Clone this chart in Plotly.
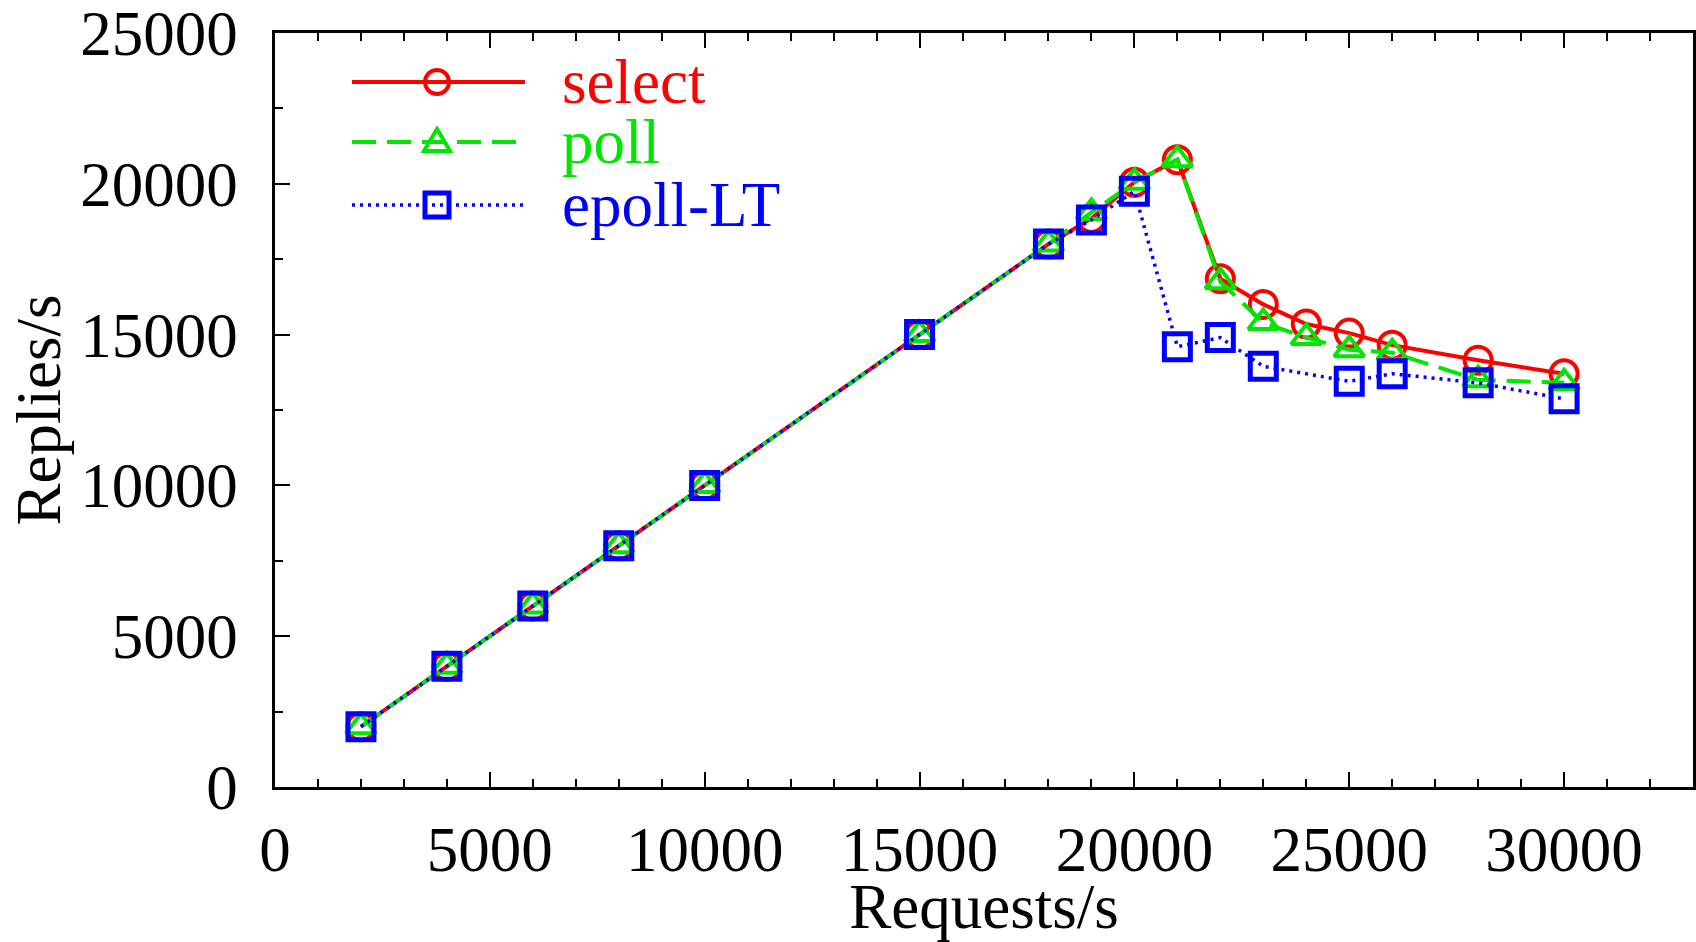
import plotly.graph_objects as go

# ---- data ----
requests = [2000, 4000, 6000, 8000, 10000, 15000, 18000, 19000, 20000, 21000,
            22000, 23000, 24000, 25000, 26000, 28000, 30000]
select_replies = [2000, 4000, 6000, 8000, 10000, 15000, 18000, 18850, 20050, 20800,
                  16850, 16000, 15350, 15050, 14650, 14150, 13700]
poll_replies = [2000, 4000, 6000, 8000, 10000, 15000, 18000, 19050, 20050, 20800,
                16750, 15400, 14900, 14500, 14400, 13500, 13400]
epoll_requests = [2000, 4000, 6000, 8000, 10000, 15000, 18000, 19000, 20000, 21000,
                  22000, 23000, 25000, 26000, 28000, 30000]
epoll_replies = [2000, 4000, 6000, 8000, 10000, 15000, 18000, 18800, 19750, 14600,
                 14900, 13950, 13450, 13700, 13400, 12870]

series_names = ["select", "poll", "epoll-LT"]
x_ticks = [0, 5000, 10000, 15000, 20000, 25000, 30000]
y_ticks = [0, 5000, 10000, 15000, 20000, 25000]

RED = "#ff0000"
GREEN = "#00e600"
BLUE = "#0000ff"
FONT = "Liberation Serif"
FS = 63

fig = go.Figure()
fig.add_trace(go.Scatter(
    x=requests, y=select_replies, name=series_names[0], mode="lines+markers",
    line=dict(color=RED, width=4),
    marker=dict(symbol="circle-open", size=27, color=RED, line=dict(width=4, color=RED)),
))
fig.add_trace(go.Scatter(
    x=requests, y=poll_replies, name=series_names[1], mode="lines+markers",
    line=dict(color=GREEN, width=4, dash="24px,11px"),
    marker=dict(symbol="triangle-up-open", size=26, color=GREEN, line=dict(width=4, color=GREEN)),
))
fig.add_trace(go.Scatter(
    x=epoll_requests, y=epoll_replies, name=series_names[2], mode="lines+markers",
    line=dict(color=BLUE, width=3.5, dash="3px,5px"),
    marker=dict(symbol="square-open", size=26, color=BLUE, line=dict(width=5, color=BLUE)),
))

# ---- custom legend (long sample lines, coloured labels) ----
L, R, T, B = 275, 1693, 33, 787
def px(xp): return (xp - L) / (R - L)
def py(yp): return (B - yp) / (B - T)

leg_rows = [82, 142, 205]
leg_colors = [RED, GREEN, BLUE]
leg_dash = ["solid", "24px,11px", "3px,5px"]
leg_width = [4, 4, 3.5]
shapes = []
annotations = []
for i, (yy, col) in enumerate(zip(leg_rows, leg_colors)):
    shapes.append(dict(type="line", xref="paper", yref="paper",
                       x0=px(352), x1=px(525), y0=py(yy), y1=py(yy),
                       line=dict(color=col, width=leg_width[i], dash=leg_dash[i])))
    if i == 0:
        shapes.append(dict(type="circle", xref="paper", yref="paper",
                           xsizemode="pixel", ysizemode="pixel",
                           xanchor=px(437), yanchor=py(yy),
                           x0=-12, x1=12, y0=-12, y1=12,
                           line=dict(color=col, width=4), fillcolor="rgba(0,0,0,0)"))
    elif i == 1:
        shapes.append(dict(type="path", xref="paper", yref="paper",
                           xsizemode="pixel", ysizemode="pixel",
                           xanchor=px(437), yanchor=py(yy),
                           path="M-13,-9 L13,-9 L0,13 Z",
                           line=dict(color=col, width=4), fillcolor="rgba(0,0,0,0)"))
    else:
        shapes.append(dict(type="rect", xref="paper", yref="paper",
                           xsizemode="pixel", ysizemode="pixel",
                           xanchor=px(437), yanchor=py(yy),
                           x0=-12, x1=12, y0=-12, y1=12,
                           line=dict(color=col, width=5), fillcolor="rgba(0,0,0,0)"))
    annotations.append(dict(text=series_names[i], xref="paper", yref="paper",
                            x=px(560), y=py(yy), xanchor="left", yanchor="middle",
                            showarrow=False, font=dict(family=FONT, size=FS, color=col)))

axis_common = dict(
    showline=True, linecolor="black", linewidth=2.5,
    ticks="inside", ticklen=15, tickwidth=2, tickcolor="black",
    showgrid=False, zeroline=False, ticklabeloverflow="allow",
    tickfont=dict(family=FONT, size=FS, color="black"),
)

fig.update_layout(
    width=1696, height=942,
    margin=dict(l=L, r=1696 - R, t=T, b=942 - B, autoexpand=False),
    paper_bgcolor="white", plot_bgcolor="white",
    showlegend=False,
    shapes=shapes, annotations=annotations,
    xaxis=dict(range=[0, 33000], tickvals=x_ticks, ticktext=[str(v) for v in x_ticks],
               mirror="ticks",
               minor=dict(dtick=1000, tick0=0, ticks="inside", ticklen=8, tickwidth=2, tickcolor="black"),
               title=dict(text="Requests/s", font=dict(family=FONT, size=FS, color="black"), standoff=4),
               ticklabelstandoff=6,
               **axis_common),
    yaxis=dict(range=[0, 25000], tickvals=y_ticks, ticktext=[str(v) for v in y_ticks],
               mirror=True,
               minor=dict(dtick=2500, tick0=0, ticks="inside", ticklen=8, tickwidth=2, tickcolor="black"),
               title=dict(text="Replies/s", font=dict(family=FONT, size=FS, color="black"), standoff=0),
               ticklabelstandoff=22,
               **axis_common),
)

fig.write_html("out.html", config={"displayModeBar": False},
               post_script="document.body.style.margin='0';document.body.style.overflow='hidden';")
